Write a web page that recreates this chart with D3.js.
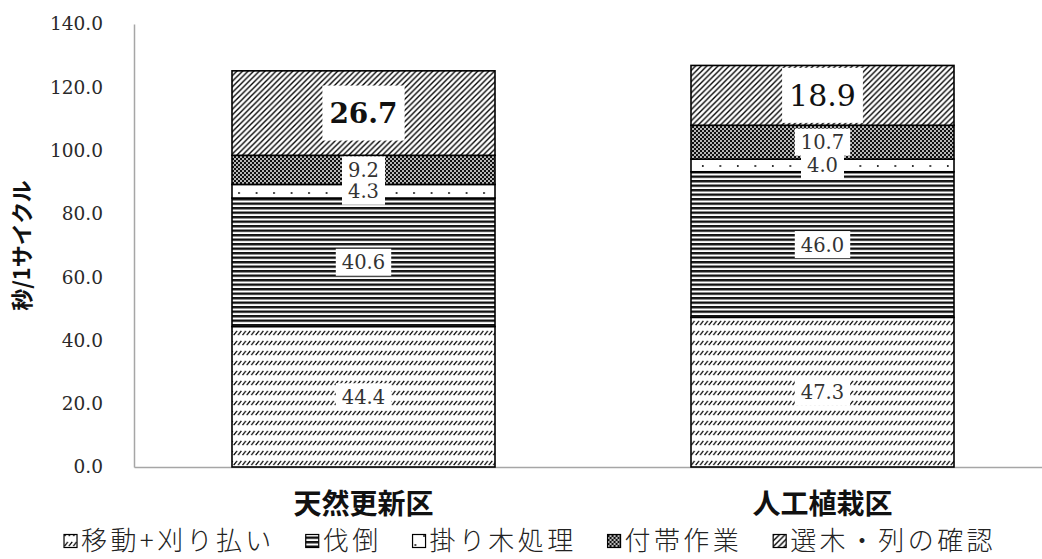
<!DOCTYPE html>
<html>
<head>
<meta charset="utf-8">
<script src="https://cdn.jsdelivr.net/npm/d3@7"></script>
<style>
  html, body { margin:0; padding:0; background:#fff; }
  svg { display:block; }
</style>
</head>
<body>
<svg id="chart" width="1042" height="559"></svg>
<script>
// data
var categories = ["天然更新区", "人工植栽区"];
var seriesNames = ["移動+刈り払い", "伐倒", "掛り木処理", "付帯作業", "選木・列の確認"];
var idoKaribarai = [44.4, 47.3];
var battou = [40.6, 46.0];
var kakarigi = [4.3, 4.0];
var futai = [9.2, 10.7];
var senboku = [26.7, 18.9];
var yTicks = [0, 20, 40, 60, 80, 100, 120, 140];
var yTitle = "秒/1サイクル";

var seriesValues = [idoKaribarai, battou, kakarigi, futai, senboku];
var table = categories.map(function(c, i) {
    var row = {cat: c};
    seriesNames.forEach(function(s, k) { row[s] = seriesValues[k][i]; });
    return row;
});

var plot_left = 134, plot_top = 24, plot_bottom = 467;
var band = 459;
var svg = d3.select("#chart");

// hatch patterns, one per series
var defs = svg.append("defs");
function pattern(id, w, h) {
    return defs.append("pattern").attr("id", id)
        .attr("patternUnits", "userSpaceOnUse")
        .attr("width", w).attr("height", h);
}
var p0 = pattern("pat0", 4.4, 10);
p0.append("rect").attr("width", 4.4).attr("height", 10).attr("fill", "#fff");
p0.append("path").attr("d", "M0.5,5.2 L3.8,0.9").attr("stroke", "#000").attr("stroke-width", 1.2);

var p1 = pattern("pat1", 8, 4.5);
p1.append("rect").attr("width", 8).attr("height", 4.5).attr("fill", "#fff");
p1.append("rect").attr("y", 0).attr("width", 8).attr("height", 2.4).attr("fill", "#111");

var p2 = pattern("pat2", 17.5, 18);
p2.append("rect").attr("width", 17.5).attr("height", 18).attr("fill", "#fff");
p2.append("rect").attr("x", 2).attr("y", 3).attr("width", 1.6).attr("height", 2).attr("fill", "#222");
p2.append("rect").attr("x", 10.75).attr("y", 12).attr("width", 1.6).attr("height", 2).attr("fill", "#222");

var p3 = pattern("pat3", 4, 4);
p3.append("rect").attr("width", 4).attr("height", 4).attr("fill", "#111");
p3.append("circle").attr("cx", 1).attr("cy", 1).attr("r", 0.95).attr("fill", "#fff");
p3.append("circle").attr("cx", 3).attr("cy", 3).attr("r", 0.95).attr("fill", "#fff");

var p4 = pattern("pat4", 5.6, 5.6);
p4.append("rect").attr("width", 5.6).attr("height", 5.6).attr("fill", "#fff");
p4.append("path").attr("d", "M0,5.6 L5.6,0 M-1.4,1.4 L1.4,-1.4 M4.2,7 L7,4.2")
    .attr("stroke", "#000").attr("stroke-width", 1.35);

var fills = ["url(#pat0)", "url(#pat1)", "url(#pat2)", "url(#pat3)", "url(#pat4)"];

var x = d3.scaleBand().domain(categories)
    .range([plot_left, plot_left + band * categories.length])
    .paddingInner(0.427).paddingOuter(0.2135);
var y = d3.scaleLinear().domain([0, 140]).range([plot_bottom, plot_top]);

// axes
var yAxis = d3.axisLeft(y).tickValues(yTicks).tickFormat(d3.format(".1f"))
    .tickSize(0).tickPadding(31);
var gy = svg.append("g").attr("transform", "translate(" + plot_left + ",0)").call(yAxis);
gy.select(".domain").attr("stroke", "#a6a6a6").attr("stroke-width", 1.5);
gy.selectAll("text").attr("font-family", "'DejaVu Serif', serif").attr("font-size", "18.5px")
    .attr("fill", "#2a2a2a");

var xAxis = d3.axisBottom(x).tickSize(0).tickSizeOuter(0);
var gx = svg.append("g").attr("transform", "translate(0," + plot_bottom + ")").call(xAxis);
gx.select(".domain").attr("stroke", "#a6a6a6").attr("stroke-width", 1.5);
gx.selectAll("text").attr("y", 37).attr("dy", "0.35em")
    .attr("font-family", "'Noto Sans CJK JP', sans-serif").attr("font-size", "28px")
    .attr("font-weight", "bold").attr("fill", "#111");

svg.append("text")
    .attr("transform", "translate(22," + ((plot_top + plot_bottom) / 2) + ") rotate(-90)")
    .attr("text-anchor", "middle").attr("dy", "0.35em")
    .attr("font-family", "'Noto Sans CJK JP', sans-serif").attr("font-size", "22px")
    .attr("font-weight", "bold").attr("fill", "#111")
    .text(yTitle);

// stacked bars
var stacked = d3.stack().keys(seriesNames)(table);
var layers = svg.append("g").selectAll("g").data(stacked).enter().append("g")
    .attr("fill", function(d, i) { return fills[i]; });
layers.selectAll("rect").data(function(d) { return d; }).enter().append("rect")
    .attr("x", function(d) { return x(d.data.cat); })
    .attr("width", x.bandwidth())
    .attr("y", function(d) { return y(d[1]); })
    .attr("height", function(d) { return y(d[0]) - y(d[1]); })
    .attr("stroke", "#000").attr("stroke-width", 1.6);

// data labels in white boxes
var labels = svg.append("g");
stacked.forEach(function(layer, k) {
    var top = (k == seriesNames.length - 1);
    layer.forEach(function(d, i) {
        var cx = x(d.data.cat) + x.bandwidth() / 2;
        var cy = (y(d[0]) + y(d[1])) / 2;
        var v = d[1] - d[0];
        var g = labels.append("g");
        var box = g.append("rect").attr("fill", "#fff");
        var t = g.append("text").attr("x", cx).attr("y", cy)
            .attr("text-anchor", "middle").attr("dy", "0.36em")
            .attr("font-family", "'DejaVu Serif', serif")
            .attr("font-size", top ? (i == 0 ? "28px" : "30px") : "19.5px")
            .attr("font-weight", top && i == 0 ? "bold" : "normal")
            .attr("fill", top ? "#111" : "#333")
            .text(d3.format(".1f")(v));
        var tw = t.node().getComputedTextLength();
        var bw = tw + (top ? 14 : 12), bh = top ? 55 : 27;
        box.attr("x", cx - bw / 2).attr("y", cy - bh / 2).attr("width", bw).attr("height", bh);
    });
});

// legend
var legend = svg.append("g");
var items = legend.selectAll("g").data(seriesNames).enter().append("g");
items.append("rect").attr("width", 13).attr("height", 13).attr("y", -6.5)
    .attr("fill", function(d, i) { return fills[i]; })
    .attr("stroke", "#000").attr("stroke-width", 1.2);
items.append("text").attr("x", 17).attr("dy", "0.36em")
    .attr("font-family", "'Noto Sans CJK JP', sans-serif").attr("font-size", "26px")
    .attr("letter-spacing", "3.4px")
    .attr("font-weight", 300).attr("fill", "#222")
    .text(function(d) { return d; });
var widths = [];
items.each(function() { widths.push(this.getBBox().width); });
var gap = 31;
var total = d3.sum(widths) + gap * (widths.length - 1);
var lx = 530 - total / 2;
items.attr("transform", function(d, i) {
    var xx = lx;
    lx += widths[i] + gap;
    return "translate(" + xx + ",541)";
});
</script>
</body>
</html>
